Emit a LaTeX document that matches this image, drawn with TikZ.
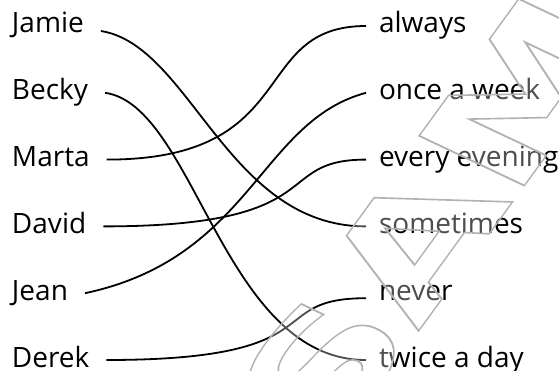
\documentclass[tikz,border=0pt]{standalone}
\usepackage{fontspec}
\setmainfont{Open Sans}
\newfontfamily\stampfont{DejaVu Sans}[BoldFont={DejaVu Sans Bold}]
\usetikzlibrary{positioning}

% hollow letters for the stamp
\newcommand{\hollow}[1]{\special{pdf:literal direct 1 Tr 1.2 w}#1\special{pdf:literal direct 0 Tr}}

\begin{document}
\begin{tikzpicture}[x=1pt, y=1pt,
    node distance=66.8pt,
    word/.style={font=\fontsize{28}{32}\selectfont, inner sep=0pt,
                 text height=20pt, text depth=6pt, anchor=base west},
    who/.style={word, outer xsep=17pt},
    when/.style={word, outer xsep=13pt},
    link/.style={line width=1.8pt},
    stamp/.style={font=\stampfont\bfseries\fontsize{135}{135}\selectfont,
                  inner sep=0pt, anchor=base west, transform shape}
  ]
    \useasboundingbox (0,0) rectangle (559,370);

    % people
    \node[who] (jamie) at (-5,337) {Jamie};
    \node[who, below=of jamie.base west, anchor=base west] (becky) {Becky};
    \node[who, below=of becky.base west, anchor=base west] (marta) {Marta};
    \node[who, below=of marta.base west, anchor=base west] (david) {David};
    \node[who, below=of david.base west, anchor=base west] (jean) {Jean};
    \node[who, below=of jean.base west, anchor=base west] (derek) {Derek};

    % how often
    \node[when] (always) at (366,337) {always};
    \node[when, below=of always.base west, anchor=base west] (week) {once a week};
    \node[when, below=of week.base west, anchor=base west] (evening) {every evening};
    \node[when, below=of evening.base west, anchor=base west] (sometimes) {sometimes};
    \node[when, below=of sometimes.base west, anchor=base west] (never) {never};
    \node[when, below=of never.base west, anchor=base west] (twice) {twice a day};

    \draw[link] ([yshift=-5pt]jamie.east) to[out=-9, in=180, out distance=91pt, in distance=139pt] (sometimes.west);
    \draw[link] (becky.east) to[out=-8, in=180, out distance=91pt, in distance=143pt] (twice.west);
    \draw[link] (marta.east) to[out=0, in=180, out distance=197pt, in distance=118pt] (always.west);
    \draw[link] (david.east) to[out=0, in=180, out distance=231pt, in distance=96pt] (evening.west);
    \draw[link] (jean.east) to[out=12, in=195, out distance=170pt, in distance=110pt] (week.west);
    \draw[link] (derek.east) to[out=0, in=180, out distance=231pt, in distance=104pt] ([yshift=-5pt]never.west);

    % stamp over the right side
    \begin{scope}
      \clip (0,0) rectangle (559,370);
      \begin{scope}[shift={(329.5,-83.5)}, xscale=1.24, rotate=59.6]
        \node[stamp, text=white, text opacity=0.3] (shade) at (0,0) {\scalebox{1.45}[1]{SAMPLE}};
        \node[stamp, text=black!30] (rim) at (0,0) {\scalebox{1.45}[1]{\hollow{SAMPLE}}};
      \end{scope}
    \end{scope}
\end{tikzpicture}
\end{document}
